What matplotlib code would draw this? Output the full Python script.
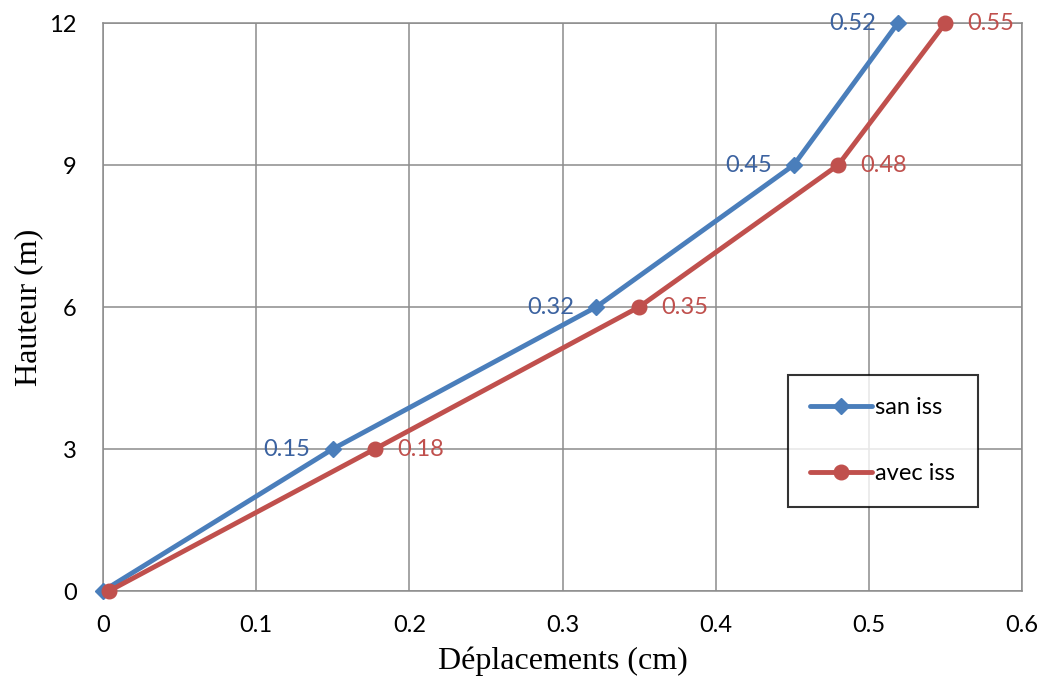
import matplotlib
matplotlib.use("Agg")
import matplotlib.pyplot as plt

# Storey heights (m) and lateral displacements (cm)
hauteur = [0, 3, 6, 9, 12]
dep_san_iss = [0.0, 0.15, 0.322, 0.451, 0.519]
dep_avec_iss = [0.004, 0.1775, 0.350, 0.48, 0.55]
serie_labels = ["san iss", "avec iss"]

x_ticks = [0, 0.1, 0.2, 0.3, 0.4, 0.5, 0.6]
y_ticks = [0, 3, 6, 9, 12]

blue = "#4A7EBB"
red = "#C0504D"
blue_txt = "#3B62A0"
red_txt = "#C0504D"
grid_col = "#8C8C8C"
sans = "Lato"
serif = "Liberation Serif"

fig = plt.figure(figsize=(10.45, 6.83), dpi=100)
ax = fig.add_axes([103 / 1045, 1 - 591 / 683, (1022 - 103) / 1045, (591 - 23) / 683])

ax.plot(dep_san_iss, hauteur, color=blue, lw=3.5, marker="D", ms=8,
        label=serie_labels[0], zorder=4, solid_capstyle="round", clip_on=False)
ax.plot(dep_avec_iss, hauteur, color=red, lw=3.5, marker="o", ms=10.5,
        label=serie_labels[1], zorder=5, solid_capstyle="round", clip_on=False)

for x, y in zip(dep_san_iss[1:], hauteur[1:]):
    ax.annotate(f"{x:.2f}", (x, y), xytext=(-16, 0), textcoords="offset points",
                ha="right", va="center", color=blue_txt, fontsize=17,
                family=sans, zorder=6)
for x, y in zip(dep_avec_iss[1:], hauteur[1:]):
    ax.annotate(f"{x:.2f}", (x, y), xytext=(16, 0), textcoords="offset points",
                ha="left", va="center", color=red_txt, fontsize=17,
                family=sans, zorder=6)

ax.set_xlim(0, 0.6)
ax.set_ylim(0, 12)
ax.set_xticks(x_ticks)
ax.set_yticks(y_ticks)
ax.set_xticklabels([f"{v:g}" for v in x_ticks], family=sans, fontsize=17)
ax.set_yticklabels([str(v) for v in y_ticks], family=sans, fontsize=17)
ax.tick_params(axis="both", length=0)
ax.tick_params(axis="x", pad=17)
ax.tick_params(axis="y", pad=19)
ax.grid(True, color=grid_col, lw=1.1)
ax.set_axisbelow(True)
for sp in ax.spines.values():
    sp.set_color(grid_col)
    sp.set_linewidth(1.1)

ax.set_xlabel("Déplacements (cm)", family=serif, fontsize=23, labelpad=8)
ax.set_ylabel("Hauteur (m)", family=serif, fontsize=23, labelpad=4)

leg = ax.legend(loc="upper left", bbox_to_anchor=((788 - 103) / 919, (591 - 375) / 568),
                frameon=True, fancybox=False, edgecolor="black",
                prop={"family": sans, "size": 17}, borderpad=0.95,
                labelspacing=1.9, handlelength=2.6, handletextpad=0.15,
                borderaxespad=0)
leg.get_frame().set_linewidth(1.5)

fig.savefig("out.png", dpi=100, facecolor="white")
